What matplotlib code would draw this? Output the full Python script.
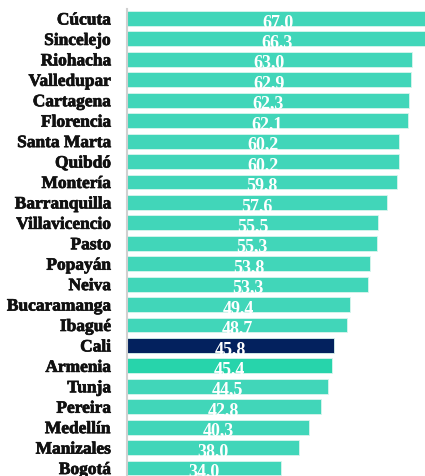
import matplotlib.pyplot as plt
import matplotlib.patheffects as pe
import numpy as np

ciudades = ["Cúcuta", "Sincelejo", "Riohacha", "Valledupar", "Cartagena", "Florencia",
            "Santa Marta", "Quibdó", "Montería", "Barranquilla", "Villavicencio", "Pasto",
            "Popayán", "Neiva", "Bucaramanga", "Ibagué", "Cali", "Armenia", "Tunja",
            "Pereira", "Medellín", "Manizales", "Bogotá"]
valores = [67.0, 66.3, 63.0, 62.9, 62.3, 62.1, 60.2, 60.2, 59.8, 57.6, 55.5, 55.3,
           53.8, 53.3, 49.4, 48.7, 45.8, 45.4, 44.5, 42.8, 40.3, 38.0, 34.0]

colores = []
for c in ciudades:
    if c == "Cali":
        colores.append("#03215e")
    elif c == "Armenia":
        colores.append("#27d4ab")
    else:
        colores.append("#41d6b9")

fig = plt.figure(figsize=(4.25, 4.77), dpi=100)
ax = fig.add_axes([127 / 425, 0, 1 - 127 / 425, 467 / 477])

y = np.arange(len(ciudades))
ax.barh(y, valores, height=0.73, color=colores, edgecolor="#d9f5ee", linewidth=0.6)

for i, v in enumerate(valores):
    ax.text(v / 2, i + 0.14, f"{v:.1f}".replace(".", ","), ha="center", va="center",
            color="white", fontsize=13, fontweight="bold", family="Liberation Serif",
            clip_on=False)

ax.set_xlim(0, 65.9)
ax.set_ylim(22.39, -0.465)
ax.set_yticks(y)
ax.set_yticklabels(ciudades, fontsize=12.5, fontweight="bold", family="Liberation Serif",
                   color="#111111")
for lab in ax.get_yticklabels():
    lab.set_path_effects([pe.withStroke(linewidth=0.5, foreground="#111111")])
ax.tick_params(axis="y", length=0, pad=11.5)
ax.set_xticks([])

for s in ["top", "right", "bottom"]:
    ax.spines[s].set_visible(False)
ax.spines["left"].set_color("#d0d0d0")
ax.spines["left"].set_linewidth(1.5)

fig.savefig("out.png", dpi=100)
